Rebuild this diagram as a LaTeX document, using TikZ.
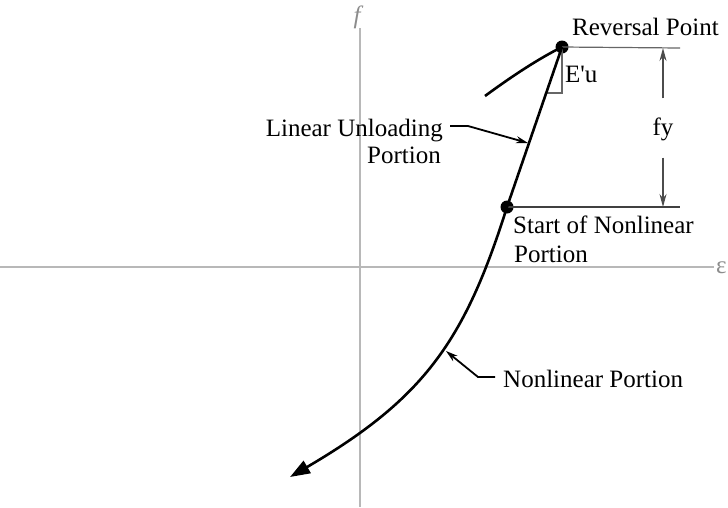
\documentclass[tikz,border=0pt]{standalone}
\usepackage{fontspec}
\setmainfont{Liberation Serif}
\usetikzlibrary{arrows.meta}
\begin{document}
\begin{tikzpicture}[x=1pt,y=-1pt,
  lbl/.style={font=\fontsize{25}{28}\selectfont, inner sep=0pt},
  axisline/.style={draw=black!28, line width=1.3pt},
  dimline/.style={draw=black!60, line width=1.2pt},
  mainline/.style={draw=black, line width=2.6pt},
  leader/.style={draw=black, line width=1.8pt},
  pt/.style={circle, fill=black, minimum size=13pt, inner sep=0pt}]
\useasboundingbox (0,0) rectangle (728,507);
% axes
\coordinate (yt) at (360,28);
\coordinate (yb) at (360,507);
\coordinate (xl) at (0,267);
\coordinate (xr) at (714,267);
\draw[axisline] (yt) -- (yb);
\draw[axisline] (xl) -- (xr);
\node[lbl, text=black!45, font=\fontsize{25}{28}\selectfont\itshape] (flab) at (357,17) {f};
\node[lbl, text=black!45, anchor=west] (elab) at (716,268) {ε};
% points
\node[pt] (rev) at (562,47) {};
\node[pt] (snl) at (507,207) {};
% dimension lines
\coordinate (dt) at (680,48);
\coordinate (db) at (680,207);
\draw[dimline] (rev.center) -- (dt);
\draw[dimline, draw=black!75] (snl.center) -- (db);
\coordinate (at) at (663,48);
\coordinate (ab) at (663,207);
\node[lbl] (fy) at (663,129) {fy};
\draw[dimline, draw=black!70, -{Stealth[length=13pt,width=7pt]}] (fy.north) ++(0,-19) -- (at);
\draw[dimline, draw=black!70, -{Stealth[length=13pt,width=7pt]}] (fy.south) ++(0,17) -- (ab);
% right angle mark
\coordinate (ra1) at (562,93);
\coordinate (ra2) at (547,93);
\draw[draw=black!60, line width=1.1pt] (rev.center) -- (ra1) -- (ra2);
% main curves
\coordinate (lend) at (485,96);
\draw[mainline] (lend) .. controls (515,74) and (540,58) .. (rev.center);
\draw[mainline] (rev.center) -- (snl.center);
\coordinate (tip) at (290,477);
\draw[mainline, -{Triangle[length=20pt,width=14pt]}] (snl.center) .. controls (465,340) and (425,398) .. (tip);
% labels
\node[lbl, anchor=base west] (revlab) at (572,35) {Reversal Point};
\node[lbl, anchor=base west] (eulab) at (565,82) {E\textquotesingle u};
\node[lbl, anchor=base east] (lin1) at (443,136) {Linear Unloading};
\node[lbl, anchor=base east] (lin2) at (441,163) {Portion};
\node[lbl, anchor=base west] (st1) at (513,233) {Start of Nonlinear};
\node[lbl, anchor=base west] (st2) at (514,262) {Portion};
\node[lbl, anchor=base west] (nlp) at (503,387) {Nonlinear Portion};
% leaders
\coordinate (l1a) at (450,126);
\coordinate (l1b) at (468,126);
\coordinate (l1c) at (528,143);
\draw[leader, -{Stealth[length=12pt,width=7pt]}] (l1a) -- (l1b) -- (l1c);
\coordinate (l2a) at (495,377);
\coordinate (l2b) at (478,377);
\coordinate (l2c) at (446,351);
\draw[leader, -{Stealth[length=12pt,width=7pt]}] (l2a) -- (l2b) -- (l2c);
\end{tikzpicture}
\end{document}
